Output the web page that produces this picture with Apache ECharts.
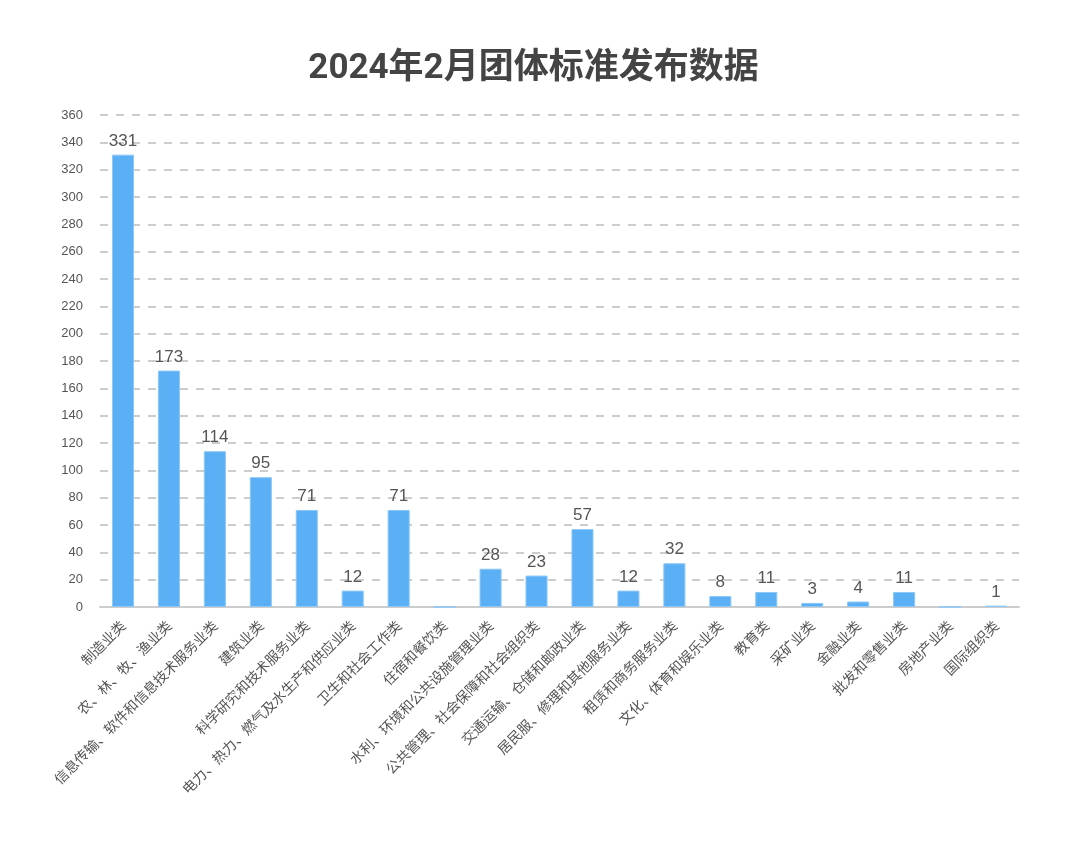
<!DOCTYPE html>
<html>
<head>
<meta charset="utf-8">
<script src="https://cdn.jsdelivr.net/npm/echarts@6/dist/echarts.min.js"></script>
<style>
  html, body { margin: 0; padding: 0; background: #fff; }
  #main { width: 1067px; height: 867px; }
</style>
</head>
<body>
<div id="main"></div>
<script>
// 行业分类
const categories = [
  '制造业类', '农、林、牧、渔业类', '信息传输、软件和信息技术服务业类', '建筑业类',
  '科学研究和技术服务业类', '电力、热力、燃气及水生产和供应业类', '卫生和社会工作类',
  '住宿和餐饮类', '水利、环境和公共设施管理业类', '公共管理、社会保障和社会组织类',
  '交通运输、仓储和邮政业类', '居民服、修理和其他服务业类', '租赁和商务服务业类',
  '文化、体育和娱乐业类', '教育类', '采矿业类', '金融业类', '批发和零售业类',
  '房地产业类', '国际组织类'
];
// 发布数量
const counts = [331, 173, 114, 95, 71, 12, 71, 0, 28, 23, 57, 12, 32, 8, 11, 3, 4, 11, 0, 1];

const chart = echarts.init(document.getElementById('main'));

chart.setOption({
  animation: false,
  title: {
    text: '2024年2月团体标准发布数据',
    left: 'center',
    top: 47,
    textStyle: {
      fontSize: 35,
      fontWeight: 'bold',
      color: '#444',
      fontFamily: 'Roboto, "Noto Sans CJK SC", sans-serif'
    }
  },
  grid: {
    left: 100,
    right: 48,
    top: 115,
    bottom: 260
  },
  xAxis: {
    type: 'category',
    data: categories,
    axisLine: { lineStyle: { color: '#ccc', width: 2 } },
    axisTick: { alignWithLabel: true, length: 8, lineStyle: { color: '#ccc', width: 2 } },
    axisLabel: {
      interval: 0,
      rotate: 45,
      margin: 16,
      fontSize: 14,
      color: '#555',
      fontFamily: '"Noto Sans CJK SC", sans-serif'
    }
  },
  yAxis: {
    type: 'value',
    min: 0,
    max: 360,
    interval: 20,
    axisLine: { show: false },
    axisTick: { show: false },
    axisLabel: { fontSize: 13, color: '#555', margin: 17 },
    splitLine: { lineStyle: { type: [8, 8], color: '#ccc', width: 2 } }
  },
  series: [{
    type: 'bar',
    data: counts,
    barWidth: '48%',
    itemStyle: {
      color: '#5aaff5',
      borderColor: '#8cc8f8',
      borderWidth: 1
    },
    label: {
      show: true,
      position: 'top',
      fontSize: 17,
      color: '#555',
      formatter: p => (p.value ? p.value : '')
    }
  }]
});
</script>
</body>
</html>
